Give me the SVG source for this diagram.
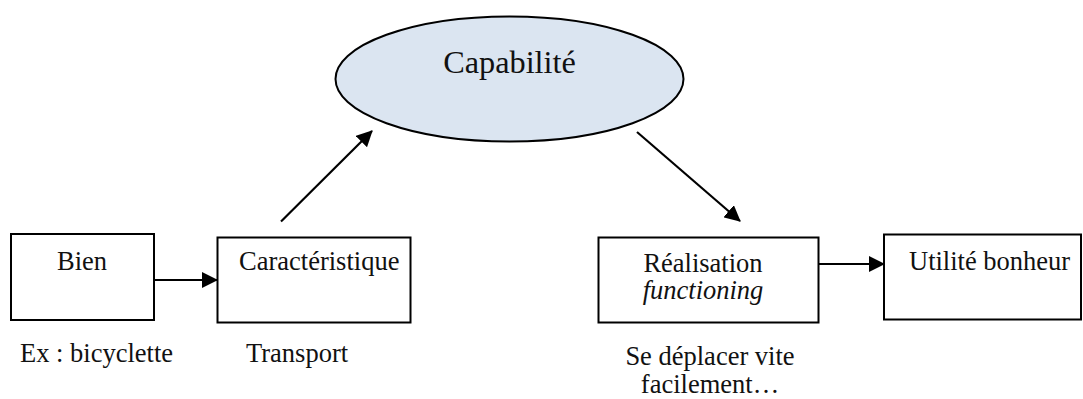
<svg xmlns="http://www.w3.org/2000/svg" width="1083" height="399" viewBox="0 0 1083 399">
<style>
text{font-family:"Liberation Serif","Times New Roman",serif;font-size:26.5px;fill:#111}
.box{fill:#fff;stroke:#000;stroke-width:2}
.conn{stroke:#000;stroke-width:2.2;fill:none}
</style>
<defs>
<marker id="ah" markerWidth="16" markerHeight="16" refX="15" refY="8" orient="auto" markerUnits="userSpaceOnUse">
<path d="M0,0 L16,8 L0,16 Z" fill="#000"/>
</marker>
</defs>
<rect width="1083" height="399" fill="#fff"/>
<g id="capabilite">
<ellipse cx="509.5" cy="79" rx="174" ry="62.5" fill="#dbe5f1" stroke="#000" stroke-width="2"/>
<text x="509.5" y="73" text-anchor="middle" style="font-size:32.3px">Capabilité</text>
</g>
<g id="bien">
<rect class="box" x="11" y="234" width="143" height="86"/>
<text x="57" y="270">Bien</text>
<text x="20" y="362">Ex : bicyclette</text>
</g>
<g id="caracteristique">
<rect class="box" x="217.5" y="237.5" width="193" height="85"/>
<text x="239" y="270">Caractéristique</text>
<text x="246" y="362">Transport</text>
</g>
<g id="realisation">
<rect class="box" x="598.5" y="237.5" width="220" height="85"/>
<text x="703" y="271.5" text-anchor="middle">Réalisation</text>
<text x="703" y="299" text-anchor="middle" font-style="italic">functioning</text>
<text x="710" y="365" text-anchor="middle">Se déplacer vite</text>
<text x="710" y="392.5" text-anchor="middle">facilement…</text>
</g>
<g id="utilite">
<rect class="box" x="884" y="234.5" width="197" height="85"/>
<text x="909" y="270">Utilité bonheur</text>
</g>
<g id="connectors">
<line class="conn" x1="154" y1="280" x2="217" y2="280" marker-end="url(#ah)"/>
<line class="conn" x1="281" y1="221.5" x2="372" y2="131" marker-end="url(#ah)"/>
<line class="conn" x1="637" y1="132" x2="740" y2="221" marker-end="url(#ah)"/>
<line class="conn" x1="819" y1="264" x2="884" y2="264" marker-end="url(#ah)"/>
</g>
</svg>
